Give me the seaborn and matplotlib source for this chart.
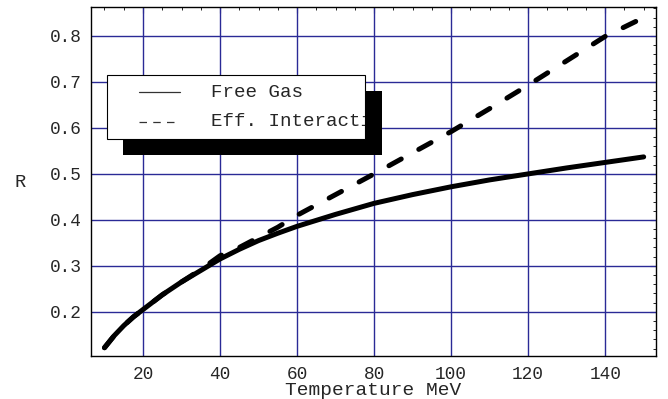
import matplotlib
matplotlib.use('Agg')
import matplotlib.pyplot as plt
from matplotlib.patches import Rectangle
from matplotlib.ticker import MultipleLocator
from matplotlib.transforms import Bbox, TransformedBbox
import seaborn as sns

# temperature grid (MeV) and the two R curves
temperature = [10, 12.5, 15, 17.5, 20, 25, 30, 35, 40, 45, 50, 55, 60, 70, 80, 90, 100, 110, 120, 130, 140, 150]
r_free_gas = [0.122, 0.148, 0.170, 0.189, 0.205, 0.237, 0.265, 0.290, 0.315, 0.336, 0.355, 0.371, 0.386,
              0.412, 0.436, 0.455, 0.472, 0.487, 0.500, 0.513, 0.525, 0.537]
r_eff_int = [0.122, 0.148, 0.170, 0.189, 0.205, 0.237, 0.265, 0.292, 0.322, 0.340, 0.362, 0.384, 0.410,
             0.455, 0.500, 0.546, 0.592, 0.642, 0.693, 0.746, 0.799, 0.840]
legend_labels = ['Free Gas', 'Eff. Interactions']
x_ticks = [20, 40, 60, 80, 100, 120, 140]
y_ticks = [0.2, 0.3, 0.4, 0.5, 0.6, 0.7, 0.8]

sns.set_style('white')
plt.rcParams['font.family'] = ['Liberation Mono', 'DejaVu Sans Mono']

fig = plt.figure(figsize=(6.68, 3.99), dpi=100)
ax = fig.add_axes([91 / 668, 1 - 356 / 399, 565 / 668, 349 / 399])

grid_col = '#2a2a96'
for xt in x_ticks:
    ax.axvline(xt, color=grid_col, lw=1.0, zorder=1)
for yt in y_ticks:
    ax.axhline(yt, color=grid_col, lw=1.0, zorder=1)

sns.lineplot(x=temperature, y=r_eff_int, color='k', lw=3.6, linestyle=(0, (2.8, 4.0)),
             dash_capstyle='round', ax=ax, zorder=3)
sns.lineplot(x=temperature, y=r_free_gas, color='k', lw=3.6, solid_capstyle='round', ax=ax, zorder=4)

ax.set_xlim(6.5, 153.2)
ax.set_ylim(0.104, 0.863)
ax.set_xticks(x_ticks)
ax.set_yticks(y_ticks)
ax.xaxis.set_minor_locator(MultipleLocator(5))
ax.yaxis.set_minor_locator(MultipleLocator(0.02))
ax.tick_params(which='both', direction='in', top=True, right=True, labelsize=12.8, pad=7, color='k')
ax.tick_params(which='major', length=4, width=0.8)
ax.tick_params(which='minor', length=2.5, width=0.6)
for s in ax.spines.values():
    s.set_color('k')
    s.set_linewidth(1.0)

ax.set_xlabel('Temperature MeV', fontsize=14, va='baseline')
ax.xaxis.set_label_coords(0.5, -0.1117)
ax.set_ylabel('R', fontsize=13.5, rotation=0, va='center', ha='center')
ax.yaxis.set_label_coords(-0.1257, 0.496)

# legend box with offset shadow, drawn by hand
shadow = Rectangle((0.0566, 0.576), 0.4584, 0.183, transform=ax.transAxes, facecolor='k',
                   edgecolor='none', zorder=6)
box = Rectangle((0.0283, 0.6218), 0.4567, 0.1832, transform=ax.transAxes, facecolor='white',
                edgecolor='k', lw=0.8, zorder=7)
ax.add_patch(shadow)
ax.add_patch(box)
ax.plot([0.085, 0.1575], [0.7564, 0.7564], transform=ax.transAxes, color='#333333', lw=0.9, zorder=8)
ax.plot([0.085, 0.1575], [0.6705, 0.6705], transform=ax.transAxes, color='#333333', lw=0.9,
        linestyle=(0, (6, 5)), zorder=8)
clip = TransformedBbox(Bbox([[0.0283, 0.6218], [0.4850, 0.8050]]), ax.transAxes)
for lab, yy in zip(legend_labels, [0.7564, 0.6705]):
    t = ax.text(0.2124, yy, lab, transform=ax.transAxes, fontsize=13.8, va='center', ha='left', zorder=8)
    t.set_clip_on(True)
    t.set_clip_box(clip)

fig.savefig('out.png', dpi=100)
